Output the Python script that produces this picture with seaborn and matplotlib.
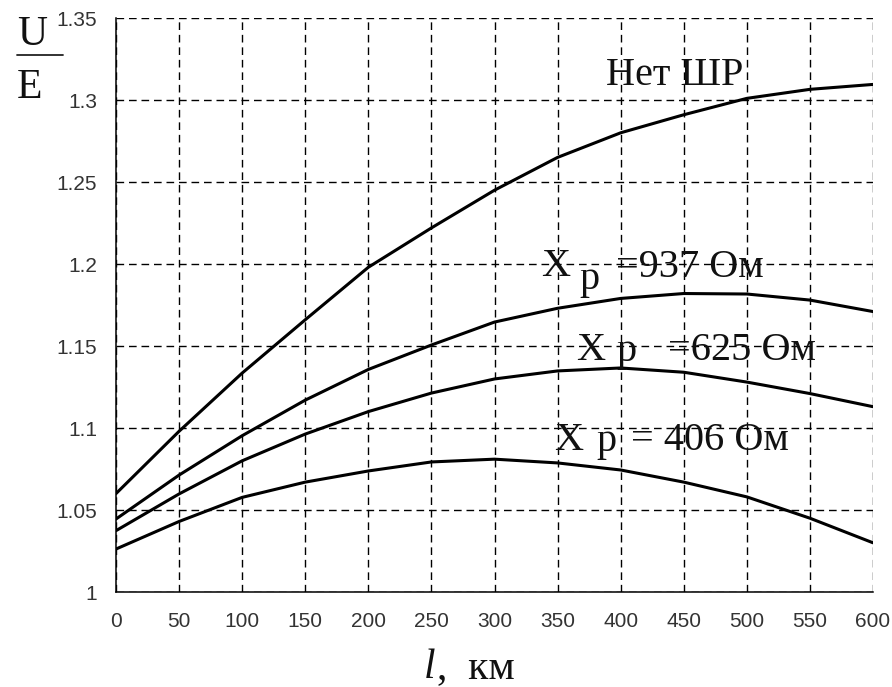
import numpy as np
import pandas as pd
import matplotlib
matplotlib.use("Agg")
import matplotlib.pyplot as plt
from matplotlib.ticker import MultipleLocator, FuncFormatter
from matplotlib.lines import Line2D
import seaborn as sns

# ---- data ----
length_km = [0, 50, 100, 150, 200, 250, 300, 350, 400, 450, 500, 550, 600]
no_shr = [1.060, 1.098, 1.1335, 1.166, 1.198, 1.222, 1.245, 1.265, 1.280, 1.291, 1.301, 1.3065, 1.3095]
xp_937 = [1.0445, 1.0713, 1.0953, 1.117, 1.1357, 1.1506, 1.1646, 1.173, 1.179, 1.182, 1.1817, 1.178, 1.171]
xp_625 = [1.0374, 1.0598, 1.080, 1.0963, 1.110, 1.1213, 1.1299, 1.1348, 1.1366, 1.134, 1.128, 1.121, 1.113]
xp_406 = [1.0262, 1.043, 1.0577, 1.067, 1.0738, 1.0793, 1.081, 1.0787, 1.0744, 1.067, 1.058, 1.045, 1.030]
series_names = ["Нет ШР", "937", "625", "406"]
x_ticks = [0, 50, 100, 150, 200, 250, 300, 350, 400, 450, 500, 550, 600]
y_ticks = [1.0, 1.05, 1.1, 1.15, 1.2, 1.25, 1.3, 1.35]

frames = []
for name, vals in zip(series_names, [no_shr, xp_937, xp_625, xp_406]):
    frames.append(pd.DataFrame({"l": length_km, "ue": vals, "series": name}))
df = pd.concat(frames, ignore_index=True)

sns.set_style("white")
plt.rcParams["font.family"] = ["Liberation Sans", "DejaVu Sans"]

fig = plt.figure(figsize=(8.92, 6.87), dpi=100)
ax = fig.add_axes([116 / 892, 1 - 592 / 687, (873 - 116) / 892, (592 - 18) / 687])

sns.lineplot(data=df, x="l", y="ue", hue="series", palette=["black"] * 4,
             legend=False, linewidth=2.2, ax=ax, sort=False)

ax.set_xlim(0, 600)
ax.set_ylim(1.0, 1.35)
ax.set_xticks(x_ticks)
ax.set_yticks(y_ticks)
ax.yaxis.set_minor_locator(MultipleLocator(0.01))
ax.yaxis.set_major_formatter(FuncFormatter(lambda v, p: "%g" % round(v, 2)))
ax.set_xlabel("")
ax.set_ylabel("")

for s in ["top", "right"]:
    ax.spines[s].set_visible(False)
for s in ["left", "bottom"]:
    ax.spines[s].set_linewidth(1.1)
    ax.spines[s].set_color("black")

ax.grid(True, which="major", color="black", linestyle=(0, (5.5, 3.5)), linewidth=1.0)
ax.set_axisbelow(True)

ax.tick_params(axis="both", which="major", direction="inout", length=11, width=1.1,
               color="black", labelsize=15, labelcolor="#333333")
ax.tick_params(axis="x", which="major", pad=9)
ax.tick_params(axis="y", which="major", pad=8)
ax.tick_params(axis="y", which="minor", direction="in", length=3.6, width=1.0, color="black")
ax.tick_params(axis="x", which="minor", length=0)

serif = ["Liberation Serif", "DejaVu Serif"]
fs = 29

def px2data(px, py):
    return (px - 116) / 757 * 600, 1 + (592 - py) / 574 * 0.35

def put(px, py, s, **kw):
    x, y = px2data(px, py)
    ax.text(x, y, s, ha="left", va="baseline", family=serif, fontsize=fs, color="#111111", **kw)

put(606, 85, "Нет ШР")
put(541, 276, "X")
put(579, 289, "p")
put(616, 277, "=937 Ом")
put(576, 360, "X")
put(616, 361, "p")
put(668, 360, "=625 Ом")
put(554, 450, "X")
put(596, 451, "p")
put(631, 450, "= 406 Ом")

# y label as fraction U / E
fig.text(17 / 892, 1 - 45 / 687, "U", family=serif, fontsize=30, ha="left", va="baseline", color="#111111")
fig.text(17 / 892, 1 - 98 / 687, "E", family=serif, fontsize=30, ha="left", va="baseline", color="#111111")
fig.add_artist(Line2D([17 / 892, 63 / 892], [1 - 55 / 687, 1 - 55 / 687], color="#222222", linewidth=1.3,
                      transform=fig.transFigure))

# x label
fig.text(424 / 892, 1 - 678 / 687, "l", family=serif, fontsize=30, style="italic", ha="left", va="baseline",
         color="#111111")
fig.text(437 / 892, 1 - 678 / 687, ",  км", family=serif, fontsize=30, ha="left", va="baseline", color="#111111")

fig.savefig("out.png", dpi=100)
